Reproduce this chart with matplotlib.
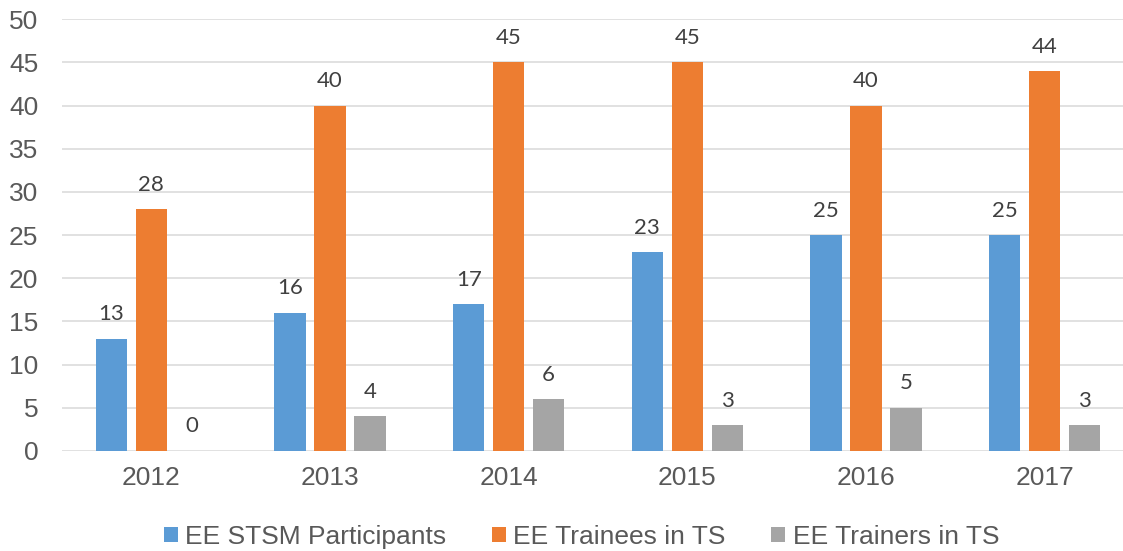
import matplotlib
matplotlib.use("Agg")
import matplotlib.pyplot as plt
import numpy as np

plt.rcParams["font.family"] = ["Liberation Sans", "DejaVu Sans"]

years = ["2012", "2013", "2014", "2015", "2016", "2017"]
stsm = [13, 16, 17, 23, 25, 25]
trainees = [28, 40, 45, 45, 40, 44]
trainers = [0, 4, 6, 3, 5, 3]
series_names = ["EE STSM Participants", "EE Trainees in TS", "EE Trainers in TS"]
colors = ["#5B9BD5", "#ED7D31", "#A5A5A5"]

W, H = 1123, 551
fig = plt.figure(figsize=(W / 100, H / 100), dpi=100)
ax = fig.add_axes([62 / W, 1 - 451 / H, (1134 - 62) / W, (451 - 19.3) / H])

x = np.arange(len(years))
bw = 0.174
step = 0.224
for i, (vals, name, c) in enumerate(zip([stsm, trainees, trainers], series_names, colors)):
    pos = x + (i - 1) * step
    ax.bar(pos, vals, width=bw, color=c, label=name, zorder=2)
    for p, v in zip(pos, vals):
        ax.annotate(str(v), (p, v), xytext=(0, 10.5), textcoords="offset points",
                    ha="center", va="bottom", fontsize=16, color="#404040",
                    family="Lato")

ax.set_xlim(-0.5, len(years) - 0.5)
ax.set_ylim(0, 50)
ax.set_yticks(np.arange(0, 51, 5))
ax.set_xticks(x)
ax.set_xticklabels(years)
ax.grid(axis="y", color="#D9D9D9", linewidth=1.1, zorder=0)
ax.set_axisbelow(True)
for s in ax.spines.values():
    s.set_visible(False)
ax.tick_params(axis="both", length=0, labelsize=19, labelcolor="#595959")
ax.tick_params(axis="y", pad=17)
ax.tick_params(axis="x", pad=11)

leg = fig.legend(loc="center", bbox_to_anchor=(581.5 / W, 1 - 537 / H), ncol=3,
                 frameon=False, handlelength=0.53, handleheight=0.53,
                 handletextpad=0.27, columnspacing=1.74, borderpad=0,
                 prop={"family": "Liberation Sans", "size": 19})
for t in leg.get_texts():
    t.set_color("#595959")

fig.savefig("out.png", dpi=100)
